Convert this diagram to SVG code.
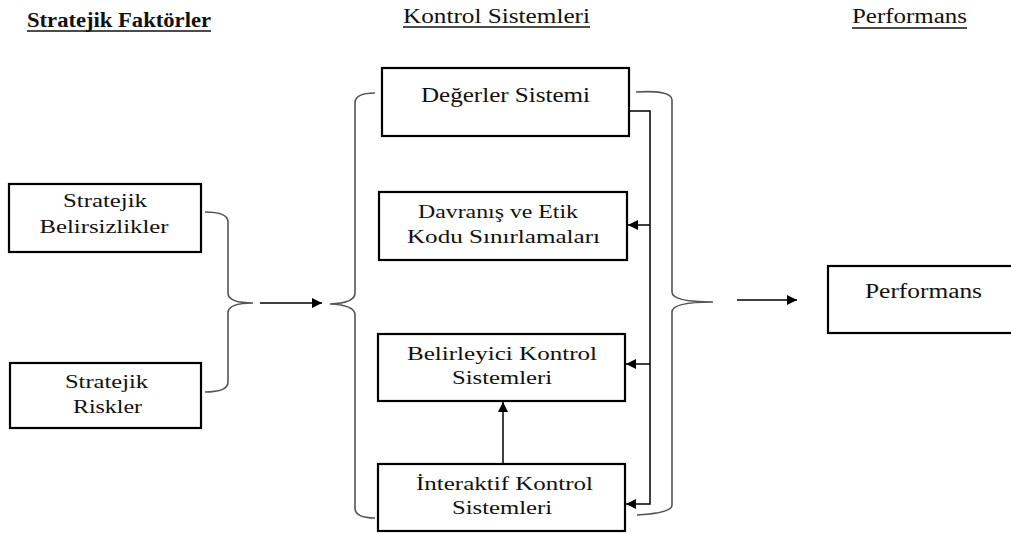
<svg xmlns="http://www.w3.org/2000/svg" width="1011" height="534" viewBox="0 0 1011 534">
<defs>
<style>
.box{fill:#fff;stroke:#000;stroke-width:2.2}
.ul{stroke:#111;stroke-width:1.3}
.con{fill:none;stroke:#000;stroke-width:1.5}
.br{fill:none;stroke:#555;stroke-width:1.6}
</style>
<marker id="ah" viewBox="0 0 10 10" refX="10" refY="5" markerWidth="11" markerHeight="10" markerUnits="userSpaceOnUse" orient="auto">
<path d="M0 0L10 5L0 10z" fill="#000"/>
</marker>
</defs>
<rect width="1011" height="534" fill="#fff"/>
<g id="headers">
<text font-family="Liberation Serif" font-size="20" font-weight="bold" fill="#111" text-anchor="middle" x="119" y="27" textLength="184" lengthAdjust="spacingAndGlyphs">Stratejik Faktörler</text>
<line class="ul" x1="27" y1="31" x2="211" y2="31"/>
<text font-family="Liberation Serif" font-size="20" fill="#111" text-anchor="middle" x="496.5" y="23" textLength="187" lengthAdjust="spacingAndGlyphs">Kontrol Sistemleri</text>
<line class="ul" x1="403" y1="27" x2="590" y2="27"/>
<text font-family="Liberation Serif" font-size="20" fill="#111" text-anchor="middle" x="909.5" y="23" textLength="115" lengthAdjust="spacingAndGlyphs">Performans</text>
<line class="ul" x1="852" y1="28" x2="967" y2="28"/>
</g>
<g id="connectors">
<path class="br" d="M205 212Q228 212 228 222L228 293Q228 303 253 303Q228 303 228 313L228 382Q228 392 205 392"/>
<path class="br" d="M375 93Q355 93 355 103L355 293Q355 303 330 304Q355 305 355 315L355 508Q355 518 375 518"/>
<path class="br" d="M636 92Q672 90 672 100L672 292Q672 302 713 302Q672 302 672 312L672 505Q672 513 637 515"/>
<line class="con" x1="260" y1="303" x2="322" y2="303" marker-end="url(#ah)"/>
<line class="con" x1="737" y1="300" x2="797" y2="300" marker-end="url(#ah)"/>
<path class="con" d="M629 111L650 111L650 504L626 504" marker-end="url(#ah)"/>
<line class="con" x1="650" y1="225" x2="628" y2="225" marker-end="url(#ah)"/>
<line class="con" x1="650" y1="364" x2="626" y2="364" marker-end="url(#ah)"/>
<line class="con" x1="503" y1="463" x2="503" y2="402" marker-end="url(#ah)"/>
</g>
<g id="n-belirsizlik">
<rect class="box" x="9" y="184" width="192" height="68"/>
<text font-family="Liberation Serif" font-size="19" fill="#111" text-anchor="middle" x="105" y="207" textLength="84" lengthAdjust="spacingAndGlyphs">Stratejik</text>
<text font-family="Liberation Serif" font-size="19" fill="#111" text-anchor="middle" x="104" y="233" textLength="129" lengthAdjust="spacingAndGlyphs">Belirsizlikler</text>
</g>
<g id="n-riskler">
<rect class="box" x="10" y="363" width="191" height="65"/>
<text font-family="Liberation Serif" font-size="19" fill="#111" text-anchor="middle" x="106.5" y="388" textLength="83" lengthAdjust="spacingAndGlyphs">Stratejik</text>
<text font-family="Liberation Serif" font-size="19" fill="#111" text-anchor="middle" x="107.5" y="413" textLength="69" lengthAdjust="spacingAndGlyphs">Riskler</text>
</g>
<g id="n-degerler">
<rect class="box" x="382" y="68" width="247" height="68"/>
<text font-family="Liberation Serif" font-size="20" fill="#111" text-anchor="middle" x="505.5" y="102" textLength="169" lengthAdjust="spacingAndGlyphs">Değerler Sistemi</text>
</g>
<g id="n-davranis">
<rect class="box" x="379" y="192" width="248" height="68"/>
<text font-family="Liberation Serif" font-size="19" fill="#111" text-anchor="middle" x="498" y="218" textLength="160" lengthAdjust="spacingAndGlyphs">Davranış ve Etik</text>
<text font-family="Liberation Serif" font-size="19" fill="#111" text-anchor="middle" x="503.5" y="243" textLength="193" lengthAdjust="spacingAndGlyphs">Kodu Sınırlamaları</text>
</g>
<g id="n-belirleyici">
<rect class="box" x="378" y="334" width="247" height="67"/>
<text font-family="Liberation Serif" font-size="19" fill="#111" text-anchor="middle" x="502" y="360" textLength="190" lengthAdjust="spacingAndGlyphs">Belirleyici Kontrol</text>
<text font-family="Liberation Serif" font-size="19" fill="#111" text-anchor="middle" x="502" y="384" textLength="100" lengthAdjust="spacingAndGlyphs">Sistemleri</text>
</g>
<g id="n-interaktif">
<rect class="box" x="378" y="464" width="247" height="67"/>
<text font-family="Liberation Serif" font-size="19" fill="#111" text-anchor="middle" x="504.5" y="490" textLength="177" lengthAdjust="spacingAndGlyphs">İnteraktif Kontrol</text>
<text font-family="Liberation Serif" font-size="19" fill="#111" text-anchor="middle" x="502" y="514" textLength="100" lengthAdjust="spacingAndGlyphs">Sistemleri</text>
</g>
<g id="n-performans">
<rect class="box" x="828" y="266" width="200" height="67"/>
<text font-family="Liberation Serif" font-size="20" fill="#111" text-anchor="middle" x="923.5" y="298" textLength="117" lengthAdjust="spacingAndGlyphs">Performans</text>
</g>
</svg>
